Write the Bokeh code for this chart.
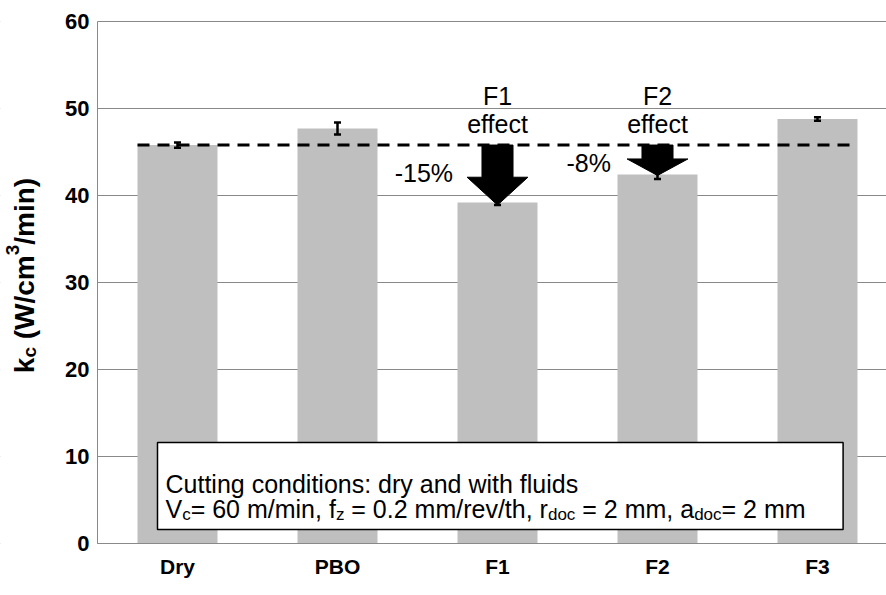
from math import pi
from bokeh.plotting import figure
from bokeh.models import Label, FixedTicker, Range1d
from bokeh.embed import file_html
from bokeh.resources import INLINE

# ---------------- data ----------------
categories = ["Dry", "PBO", "F1", "F2", "F3"]
kc_values = [45.8, 47.7, 39.2, 42.4, 48.8]
kc_errors = [0.3, 0.7, 0.3, 0.5, 0.2]
y_ticks = [0, 10, 20, 30, 40, 50, 60]

arrow_categories = ["F1", "F2"]
arrow_head_top = [42.1, 44.2]
arrow_tip = [38.9, 42.3]
arrow_titles = ["F1", "F2"]
arrow_effects = ["-15%", "-8%"]

FONT = "Liberation Sans"
NB = "\u00a0"

# Arial / Liberation Sans advance widths (1/1000 em)
REG = {" ": 278, NB: 278, "%": 889, "(": 333, ")": 333, ",": 278, "-": 333, ".": 278,
       "/": 278, ":": 278, "=": 584, "C": 722, "F": 611, "V": 667, "W": 944,
       "a": 556, "c": 500, "d": 556, "e": 556, "f": 278, "g": 556, "h": 556,
       "i": 222, "k": 500, "l": 222, "m": 833, "n": 556, "o": 556, "r": 333,
       "s": 500, "t": 278, "u": 556, "v": 500, "w": 722, "y": 500, "z": 500}
BOLD = {" ": 278, NB: 278, "(": 333, ")": 333, "/": 278, "W": 944, "c": 556, "k": 556,
        "m": 889, "i": 278, "n": 611}
for d in "0123456789":
    REG[d] = 556
    BOLD[d] = 556


def text_width(s, size, bold=False):
    table = BOLD if bold else REG
    return sum(table.get(ch, 556) for ch in s) * size / 1000.0


def keep_spaces(s):
    # SVG collapses leading/trailing blanks: use no-break spaces there
    n_lead = len(s) - len(s.lstrip(" "))
    n_trail = len(s) - len(s.rstrip(" "))
    core = s.strip(" ")
    return NB * n_lead + core + NB * n_trail


xs = list(range(len(categories)))
ref_level = kc_values[0]

W, H = 886, 595
LEFT_PX = 97          # page x of the y axis
TOP_PX = 21           # page y of value 60
BOTTOM_PX = 543       # page y of value 0
CAT_PX = 160          # pixels per category
Y_MAX = y_ticks[-1]
PX_PER_UNIT = (BOTTOM_PX - TOP_PX) / Y_MAX
x_start = -0.5 - LEFT_PX / CAT_PX
x_end = -0.5 + (W - LEFT_PX) / CAT_PX
y_lo = -(H - BOTTOM_PX) / PX_PER_UNIT
y_hi = Y_MAX + TOP_PX / PX_PER_UNIT

p = figure(width=W, height=H, output_backend="svg", toolbar_location=None,
           x_range=Range1d(x_start, x_end), y_range=Range1d(y_lo, y_hi),
           min_border_left=0, min_border_right=0, min_border_top=0,
           min_border_bottom=0, title=None)
p.outline_line_color = None
p.background_fill_color = "white"
p.border_fill_color = "white"

GRID = "#898989"
# axes (placed inside the frame so that the left area is free for the rotated label)
p.xaxis.fixed_location = 0
p.xaxis.ticker = FixedTicker(ticks=xs)
p.xaxis.major_label_overrides = {i: c for i, c in zip(xs, categories)}
p.xaxis.major_label_text_font = FONT
p.xaxis.major_label_text_font_style = "bold"
p.xaxis.major_label_text_font_size = "21px"
p.xaxis.major_label_text_color = "black"
p.xaxis.major_label_standoff = 5
p.xaxis.major_tick_line_color = None
p.xaxis.minor_tick_line_color = None
p.xaxis.axis_line_color = GRID
p.xaxis.bounds = (-0.5, x_end)

p.yaxis.fixed_location = -0.5
p.yaxis.ticker = FixedTicker(ticks=y_ticks)
p.yaxis.major_label_text_font = FONT
p.yaxis.major_label_text_font_style = "bold"
p.yaxis.major_label_text_font_size = "22px"
p.yaxis.major_label_text_color = "black"
p.yaxis.major_label_standoff = 2
p.yaxis.major_tick_line_color = None
p.yaxis.minor_tick_line_color = None
p.yaxis.axis_line_color = GRID
p.yaxis.bounds = (0, Y_MAX)

p.xgrid.visible = False
p.ygrid.grid_line_color = GRID
p.ygrid.grid_line_width = 1

# white mask so horizontal grid lines start at the y axis
p.quad(left=[x_start - 1], right=[-0.5], bottom=[y_lo - 1], top=[y_hi + 1],
       fill_color="white", line_color=None)

# bars
p.vbar(x=xs, top=kc_values, bottom=0, width=0.5, fill_color="#bfbfbf", line_color=None)

# dashed reference line (Dry level) spanning from first to last bar
p.segment(x0=[xs[0] - 0.25], y0=[ref_level], x1=[xs[-1] + 0.25], y1=[ref_level],
          line_color="black", line_width=3, line_dash="12 8")

# error bars
lo = [v - e for v, e in zip(kc_values, kc_errors)]
hi = [v + e for v, e in zip(kc_values, kc_errors)]
cap = 0.022
p.segment(x0=xs, y0=lo, x1=xs, y1=hi, line_color="black", line_width=2.5)
p.segment(x0=[x - cap for x in xs], y0=lo, x1=[x + cap for x in xs], y1=lo,
          line_color="black", line_width=2.5)
p.segment(x0=[x - cap for x in xs], y0=hi, x1=[x + cap for x in xs], y1=hi,
          line_color="black", line_width=2.5)

# arrows
shaft_hw = 0.097
head_hw = 0.19
axs, ays = [], []
for cat, ht, tip in zip(arrow_categories, arrow_head_top, arrow_tip):
    c = categories.index(cat)
    axs.append([c - shaft_hw, c + shaft_hw, c + shaft_hw, c + head_hw, c,
                c - head_hw, c - shaft_hw])
    ays.append([ref_level, ref_level, ht, ht, tip, ht, ht])
p.patches(xs=axs, ys=ays, fill_color="black", line_color="black", line_width=1)

# arrow texts
title_y = [51.4, 51.4]
effect_y = [48.2, 48.2]
pct_x = [1.54, 2.57]
pct_y = [42.6, 43.7]
for i, cat in enumerate(arrow_categories):
    c = categories.index(cat)
    for txt, yy, xx in ((arrow_titles[i], title_y[i], c), ("effect", effect_y[i], c),
                        (arrow_effects[i], pct_y[i], pct_x[i])):
        p.add_layout(Label(x=xx, y=yy, text=txt, text_align="center",
                           text_baseline="middle", text_font=FONT,
                           text_font_size="25px", text_color="black"))

# cutting-conditions box
p.quad(left=[-0.125], right=[4.16], bottom=[1.6], top=[11.6], fill_color="white",
       line_color="black", line_width=1.5)

BOX_F = 25
BOX_SUB = 17
box_x0 = 165                  # screen px from frame left
line1_y = H - 483             # screen px above frame bottom (baseline)
line2_y = H - 508
sub_drop = 6
p.add_layout(Label(x=box_x0, y=line1_y, x_units="screen", y_units="screen",
                   text="Cutting conditions: dry and with fluids", text_align="left",
                   text_baseline="alphabetic", text_font=FONT,
                   text_font_size=f"{BOX_F}px", text_color="black"))
line2 = [("V", False), ("c", True), ("= 60 m/min, f", False), ("z", True),
         (" = 0.2 mm/rev/th, r", False), ("doc", True), (" = 2 mm, a", False),
         ("doc", True), ("= 2 mm", False)]
cx = box_x0
for seg, sub in line2:
    size = BOX_SUB if sub else BOX_F
    s = keep_spaces(seg)
    p.add_layout(Label(x=cx, y=line2_y - (sub_drop if sub else 0), x_units="screen",
                       y_units="screen", text=s, text_align="left",
                       text_baseline="alphabetic", text_font=FONT,
                       text_font_size=f"{size}px", text_color="black"))
    cx += text_width(s, size)

# rotated y-axis title: k_c (W/cm^3/min)
YL_F = 28
YL_S = 19
ylab = [("k", 0), ("c", 1), (" (W/cm", 0), ("3", -1), ("/min)", 0)]
total = sum(text_width(s, YL_S if k else YL_F, True) for s, k in ylab)
base_x = 24                   # screen px from frame left (text baseline)
center_y = H - 275            # screen px above frame bottom
cy = center_y - total / 2
for seg, kind in ylab:
    size = YL_S if kind else YL_F
    dx = 5 if kind == 1 else (-12 if kind == -1 else 0)
    s = keep_spaces(seg)
    p.add_layout(Label(x=base_x + dx, y=cy, x_units="screen", y_units="screen",
                       text=s, angle=pi / 2, angle_units="rad", text_align="left",
                       text_baseline="alphabetic", text_font=FONT,
                       text_font_style="bold", text_font_size=f"{size}px",
                       text_color="black"))
    cy += text_width(s, size, True)

open("out.html", "w").write(file_html(p, INLINE))
